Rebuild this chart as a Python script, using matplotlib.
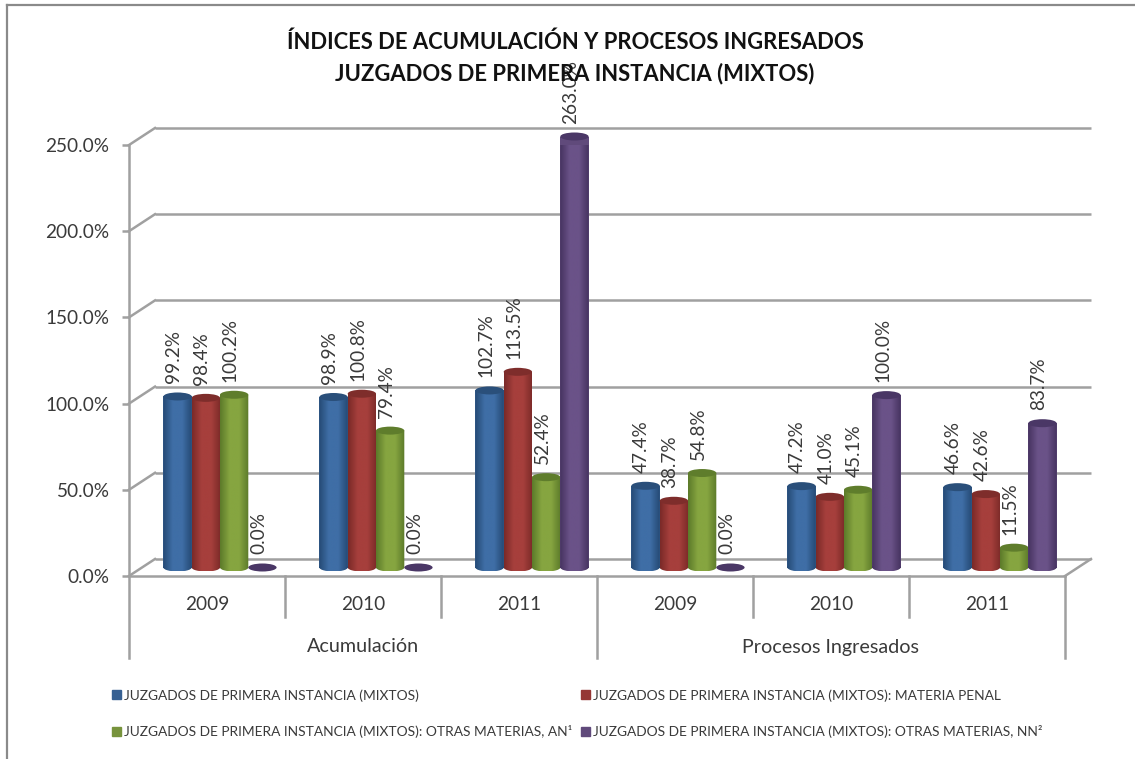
import numpy as np
import matplotlib
matplotlib.use('Agg')
import matplotlib.pyplot as plt
from matplotlib.patches import Ellipse, Rectangle
from matplotlib.path import Path
from matplotlib.colors import LinearSegmentedColormap

plt.rcParams['font.family'] = ['Lato', 'DejaVu Sans']

# values, one list per series, in % (Acumulación 2009-2011, Procesos Ingresados 2009-2011)
years = ['2009', '2010', '2011', '2009', '2010', '2011']
groups = ['Acumulación', 'Procesos Ingresados']
mixtos = [99.2, 98.9, 102.7, 47.4, 47.2, 46.6]
penal = [98.4, 100.8, 113.5, 38.7, 41.0, 42.6]
otras_an = [100.2, 79.4, 52.4, 54.8, 45.1, 11.5]
otras_nn = [0.0, 0.0, 263.0, 0.0, 100.0, 83.7]
series_names = [
    'JUZGADOS DE PRIMERA INSTANCIA (MIXTOS)',
    'JUZGADOS DE PRIMERA INSTANCIA (MIXTOS): MATERIA PENAL',
    'JUZGADOS DE PRIMERA INSTANCIA (MIXTOS): OTRAS MATERIAS, AN¹',
    'JUZGADOS DE PRIMERA INSTANCIA (MIXTOS): OTRAS MATERIAS, NN²',
]
y_ticks = [0, 50, 100, 150, 200, 250]
y_max = 250

# (edge, centre, cap, legend)
colours = [
    ('#254A75', '#3F6EA6', '#2A4F7A', '#376092'),
    ('#7A2A28', '#A63F3C', '#7E2D2B', '#953735'),
    ('#5C7A2A', '#86A540', '#5F7D2C', '#77933C'),
    ('#463360', '#6A5288', '#4A3766', '#604A7B'),
]
grey = '#A0A0A0'
text_col = '#3A3A3A'

W, H = 1135, 759
fig = plt.figure(figsize=(W / 100, H / 100), dpi=100, facecolor='white')
ax = fig.add_axes([129 / W, (H - 576) / H, 936 / W, 431 / H])
ax.set_xlim(0, 6)
ax.set_ylim(0, y_max)
ax.patch.set_visible(False)

px_x = 6 / 936
px_y = y_max / 431
depth_x = 26 * px_x
depth_y = 17 * px_y
bar_w = 28.3 * px_x
cap_h = 8 * px_y
base = np.arange(6) + 0.5 + depth_x / 2
floor = depth_y / 2

# outer frame of the chart area, only top and left show
fig.add_artist(plt.Line2D([7 / W, 7 / W], [0, 1 - 4.5 / H], color='#8A8A8A', lw=1.6))
fig.add_artist(plt.Line2D([7 / W, 1], [1 - 4.5 / H, 1 - 4.5 / H], color='#8A8A8A', lw=1.6))

# back wall and floor
for t in y_ticks:
    ax.plot([depth_x, 6 + depth_x], [t + depth_y, t + depth_y], color=grey, lw=1.8,
            clip_on=False, zorder=1, solid_capstyle='butt')
    ax.plot([0, depth_x], [t, t + depth_y], color=grey, lw=1.8, clip_on=False, zorder=1)
ax.plot([6, 6 + depth_x], [0, depth_y], color=grey, lw=1.8, clip_on=False, zorder=1)

# axes lines
low = -82 * px_y
for s in ['top', 'right']:
    ax.spines[s].set_visible(False)
for s in ['left', 'bottom']:
    ax.spines[s].set_color(grey)
    ax.spines[s].set_linewidth(1.8)
ax.spines['left'].set_bounds(low, y_max)
ax.set_yticks(y_ticks)
ax.set_yticklabels(['%.1f%%' % t for t in y_ticks], fontsize=13.7, color=text_col)
ax.tick_params(axis='y', length=5, width=1.8, color=grey, pad=9)
ax.set_xticks([])
ax.plot([6, 6], [0, low], color=grey, lw=1.8, clip_on=False, zorder=1)
for i in range(1, 6):
    end = low if i == 3 else -41 * px_y
    ax.plot([i, i], [0, end], color=grey, lw=1.8, clip_on=False, zorder=1)

for i, y in enumerate(years):
    ax.text(i + 0.5, -29 * px_y, y, ha='center', va='center', fontsize=13.7, color=text_col)
for i, g in enumerate(groups):
    ax.text(1.5 + 3 * i, -71 * px_y, g, ha='center', va='center', fontsize=14.2, color=text_col)


def draw_cylinders(xs, vals, cols, order):
    edge, mid, cap, legend_col = cols
    cmap = LinearSegmentedColormap.from_list('c', [edge, mid, mid, edge])
    grad = np.linspace(0, 1, 64).reshape(1, -1)
    shown = np.minimum(vals, y_max)
    ax.bar(xs, shown, bar_w, bottom=floor, color=legend_col, clip_on=False, zorder=order)
    for x, v in zip(xs, shown):
        top = v + floor
        if v > 0:
            r = Rectangle((x - bar_w / 2, floor), bar_w, v)
            e = Ellipse((x, floor), bar_w, cap_h)
            outline = Path.make_compound_path(
                r.get_path().transformed(r.get_patch_transform()),
                e.get_path().transformed(e.get_patch_transform()))
            im = ax.imshow(grad, cmap=cmap, aspect='auto', zorder=order, interpolation='bilinear',
                           extent=(x - bar_w / 2, x + bar_w / 2, floor - cap_h / 2, top))
            im.set_clip_path(outline, ax.transData)
        ax.add_patch(Ellipse((x, top), bar_w, cap_h, color=cap, clip_on=False, zorder=order + 0.1, lw=0))


all_series = [mixtos, penal, otras_an, otras_nn]
for k, vals in enumerate(all_series):
    xs = base + (k - 1.5) * bar_w
    draw_cylinders(xs, np.array(vals), colours[k], 3 + k)
    for x, v in zip(xs, vals):
        ax.text(x - 4 * px_x, min(v, y_max) + floor + 13 * px_y, '%.1f%%' % v, rotation=90, ha='center',
                va='bottom', fontsize=13.7, color=text_col, zorder=20, clip_on=False)

ax.set_xlim(0, 6)
ax.set_ylim(0, y_max)

# title
fig.text(575 / W, 1 - 42 / H, 'ÍNDICES DE ACUMULACIÓN Y PROCESOS INGRESADOS', ha='center', va='center',
         fontsize=15.8, fontweight='bold', color='#111111')
fig.text(575 / W, 1 - 74 / H, 'JUZGADOS DE PRIMERA INSTANCIA (MIXTOS)', ha='center', va='center',
         fontsize=15.8, fontweight='bold', color='#111111')

# legend, filled by column so the order is blue, green, red, purple
handles = [Rectangle((0, 0), 1, 1, color=colours[k][3]) for k in [0, 2, 1, 3]]
labels = [series_names[k] for k in [0, 2, 1, 3]]
fig.legend(handles, labels, ncol=2, frameon=False, loc='upper left', bbox_to_anchor=(112 / W, 1 - 689 / H),
           fontsize=9.9, labelcolor=text_col, handlelength=0.65, handleheight=0.65, handletextpad=0.22,
           columnspacing=0.62, labelspacing=1.72, borderpad=0, borderaxespad=0)

fig.savefig('out.png', dpi=100, facecolor='white')
